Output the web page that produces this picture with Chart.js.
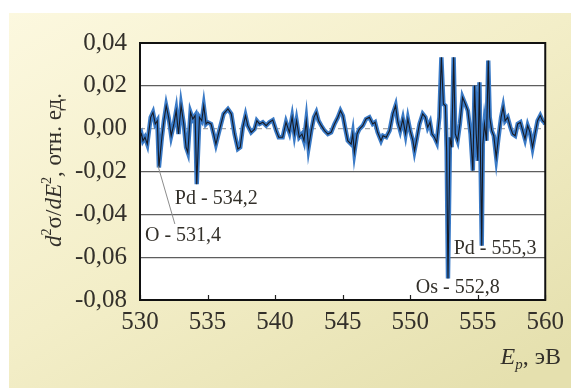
<!DOCTYPE html>
<html>
<head>
<meta charset="utf-8">
<script src="https://cdn.jsdelivr.net/npm/chart.js@4.4.1/dist/chart.umd.min.js"></script>
<style>
  html, body { margin: 0; padding: 0; background: #fff; }
  #wrap { width: 571px; height: 388px; }
</style>
</head>
<body>
<div id="wrap"><canvas id="spectrum"></canvas></div>
<script>
// --- Данные спектра: энергия (эВ) и d2σ/dE2 (отн. ед.) ---
const energy = [
  530.00, 530.11, 530.22, 530.37, 530.54, 530.79, 530.96, 531.13, 531.28, 531.40,
  531.62, 531.77, 531.94, 532.12, 532.31, 532.51, 532.68, 532.85, 533.04, 533.24,
  533.41, 533.54, 533.74, 533.91, 534.08, 534.20, 534.40, 534.57, 534.72, 534.89,
  535.01, 535.26, 535.45, 535.62, 535.87, 536.19, 536.51, 536.76, 537.00, 537.25,
  537.42, 537.61, 537.81, 537.98, 538.23, 538.48, 538.65, 538.85, 539.09, 539.34,
  539.58, 539.83, 540.08, 540.27, 540.56, 540.81, 541.06, 541.26, 541.43, 541.59,
  541.79, 541.99, 542.14, 542.31, 542.48, 542.68, 542.88, 543.05, 543.22, 543.42,
  543.66, 543.91, 544.15, 544.40, 544.65, 544.84, 545.02, 545.18, 545.38, 545.63,
  545.75, 545.87, 546.07, 546.24, 546.49, 546.73, 546.98, 547.23, 547.40, 547.59,
  547.84, 547.99, 548.23, 548.48, 548.72, 548.92, 549.09, 549.26, 549.46, 549.66,
  549.83, 550.00, 550.20, 550.32, 550.49, 550.69, 550.93, 551.13, 551.30, 551.47,
  551.62, 551.80, 551.97, 552.16, 552.31, 552.46, 552.61, 552.70, 552.80, 552.95,
  553.07, 553.22, 553.34, 553.51, 553.68, 553.88, 554.08, 554.27, 554.47, 554.64,
  554.77, 554.89, 555.01, 555.13, 555.30, 555.38, 555.50, 555.65, 555.78, 555.89,
  556.04, 556.19, 556.37, 556.54, 556.73, 556.88, 557.03, 557.22, 557.42, 557.59,
  557.77, 557.96, 558.16, 558.33, 558.50, 558.70, 558.87, 559.06, 559.24, 559.43,
  559.63, 559.80, 559.93, 560.00
];
const signal = [
  -0.0040, -0.0025, -0.0056, -0.0040, -0.0072, 0.0053, 0.0076, 0.0022, 0.0037, -0.0181,
  -0.0040, 0.0037, 0.0107, 0.0053, -0.0033, 0.0022, 0.0084, -0.0025, 0.0107, 0.0022,
  -0.0087, -0.0111, 0.0076, 0.0045, 0.0061, -0.0259, 0.0053, 0.0037, 0.0107, 0.0022,
  0.0030, 0.0022, -0.0025, -0.0072, -0.0009, 0.0069, 0.0092, 0.0069, -0.0025, -0.0095,
  -0.0087, 0.0006, 0.0061, 0.0014, -0.0017, -0.0002, 0.0037, 0.0022, 0.0030, 0.0014,
  0.0030, 0.0040, -0.0009, -0.0040, -0.0040, 0.0030, -0.0017, 0.0053, -0.0025, 0.0037,
  -0.0040, -0.0025, -0.0056, 0.0037, -0.0087, -0.0009, 0.0053, 0.0076, 0.0037, 0.0014,
  -0.0009, -0.0025, -0.0017, 0.0022, 0.0053, 0.0084, 0.0061, 0.0006, -0.0056, -0.0072,
  -0.0025, -0.0111, -0.0025, -0.0002, 0.0014, 0.0045, 0.0053, 0.0022, 0.0030, -0.0017,
  -0.0056, -0.0033, -0.0040, -0.0009, 0.0069, 0.0107, 0.0030, -0.0009, 0.0045, -0.0025,
  0.0045, -0.0009, -0.0056, -0.0103, -0.0048, 0.0022, 0.0069, 0.0053, 0.0006, 0.0030,
  -0.0025, -0.0040, -0.0064, 0.0053, 0.0333, 0.0115, 0.0107, -0.0103, -0.0700, -0.0040,
  -0.0087, 0.0333, -0.0025, -0.0056, 0.0022, 0.0146, 0.0115, 0.0084, -0.0025, -0.0196,
  0.0201, -0.0025, -0.0150, 0.0217, -0.0547, -0.0072, 0.0022, -0.0056, 0.0318, 0.0053,
  -0.0009, -0.0033, -0.0134, -0.0040, 0.0053, 0.0100, 0.0037, 0.0053, 0.0006, -0.0025,
  -0.0033, 0.0022, 0.0030, -0.0009, -0.0048, 0.0014, -0.0017, -0.0087, -0.0025, 0.0037,
  0.0061, 0.0037, 0.0030, 0.0020
];

// Подписи пиков: текст, положение подписи (эВ, значение)
const peakLabels = ["O - 531,4", "Pd - 534,2", "Os - 552,8", "Pd - 555,3"];
const peakLabelX = [530.37, 532.58, 550.42, 553.22];
const peakLabelY = [-0.0500, -0.0327, -0.0743, -0.0561];
// Выноска от пика O к подписи
const leaderX = [531.33, 532.58];
const leaderY = [-0.0173, -0.0445];

const yTicks = [-0.08, -0.06, -0.04, -0.02, 0.00, 0.02, 0.04];
const xTicks = [530, 535, 540, 545, 550, 555, 560];

const lineBlue = "#3a7ac6";
const lineDark = "#161a24";
const gridColor = "#5e5e5e";
const textColor = "#33302a";
const serif = "'Liberation Serif', 'DejaVu Serif', serif";

const points = energy.map((e, i) => ({ x: e, y: signal[i] }));

// Рисует строку из кусочков (курсив, верхний/нижний индекс)
function drawRich(ctx, parts, size) {
  let w = 0;
  const fonts = parts.map((p) => {
    const s = p.sup || p.sub ? size * 0.62 : size;
    return (p.it ? "italic " : "") + s + "px " + serif;
  });
  parts.forEach((p, i) => {
    ctx.font = fonts[i];
    p.w = ctx.measureText(p.t).width;
    w += p.w;
  });
  return {
    width: w,
    draw(x, y) {
      let cx = x;
      parts.forEach((p, i) => {
        ctx.font = fonts[i];
        const dy = p.sup ? -size * 0.45 : p.sub ? size * 0.22 : 0;
        ctx.fillText(p.t, cx, y + dy);
        cx += p.w;
      });
    },
  };
}

// Фон панели, рамка, нулевая линия, засечки, подписи
const decor = {
  id: "decor",
  beforeDraw(chart) {
    const { ctx, width, height } = chart;
    ctx.save();
    ctx.fillStyle = "#ffffff";
    ctx.fillRect(0, 0, width, height);
    const g = ctx.createLinearGradient(9, 13, 300, height + 120);
    g.addColorStop(0, "#fcf8df");
    g.addColorStop(0.5, "#f3eec8");
    g.addColorStop(1, "#e5e0ae");
    ctx.fillStyle = g;
    ctx.fillRect(9, 13, width - 9, height - 13);
    const a = chart.chartArea;
    ctx.fillStyle = "#ffffff";
    ctx.fillRect(a.left, a.top, a.right - a.left, a.bottom - a.top);
    ctx.restore();
  },
  beforeDatasetsDraw(chart) {
    const { ctx, chartArea: a, scales } = chart;
    const y0 = scales.y.getPixelForValue(0);
    ctx.save();
    ctx.strokeStyle = "#a8a8a8";
    ctx.lineWidth = 1.2;
    ctx.setLineDash([5, 4]);
    ctx.beginPath();
    ctx.moveTo(a.left, y0);
    ctx.lineTo(a.right, y0);
    ctx.stroke();
    ctx.restore();
  },
  afterDatasetsDraw(chart) {
    const { ctx, chartArea: a, scales } = chart;
    const x = scales.x, y = scales.y;
    ctx.save();
    // засечки оси X внутрь
    ctx.strokeStyle = "#222";
    ctx.lineWidth = 1.2;
    xTicks.forEach((v) => {
      const px = Math.round(x.getPixelForValue(v)) + 0.5;
      ctx.beginPath();
      ctx.moveTo(px, a.bottom);
      ctx.lineTo(px, a.bottom - 5);
      ctx.stroke();
    });
    // выноска
    ctx.strokeStyle = "#8d8d8d";
    ctx.lineWidth = 1;
    ctx.beginPath();
    ctx.moveTo(x.getPixelForValue(leaderX[0]), y.getPixelForValue(leaderY[0]));
    ctx.lineTo(x.getPixelForValue(leaderX[1]), y.getPixelForValue(leaderY[1]));
    ctx.stroke();
    // подписи пиков
    ctx.fillStyle = textColor;
    ctx.font = "20px " + serif;
    ctx.textBaseline = "middle";
    peakLabels.forEach((t, i) => {
      ctx.fillText(t, x.getPixelForValue(peakLabelX[i]), y.getPixelForValue(peakLabelY[i]));
    });
    // рамка
    ctx.strokeStyle = "#111";
    ctx.lineWidth = 2;
    ctx.strokeRect(a.left, a.top, a.right - a.left, a.bottom - a.top);
    ctx.restore();
  },
  afterDraw(chart) {
    const { ctx } = chart;
    ctx.save();
    ctx.fillStyle = textColor;
    ctx.textBaseline = "alphabetic";
    // подпись оси Y
    const yt = drawRich(ctx, [
      { t: "d", it: true }, { t: "2", sup: true }, { t: "σ" }, { t: "/" },
      { t: "dE", it: true }, { t: "2", sup: true }, { t: ", отн. ед." },
    ], 23);
    ctx.translate(61, 170);
    ctx.rotate(-Math.PI / 2);
    yt.draw(-yt.width / 2, 0);
    ctx.setTransform(1, 0, 0, 1, 0, 0);
    // подпись оси X
    const xt = drawRich(ctx, [
      { t: "E", it: true }, { t: "p", it: true, sub: true }, { t: ", эВ" },
    ], 24);
    xt.draw(561 - xt.width, 364);
    ctx.restore();
  },
};

new Chart(document.getElementById("spectrum"), {
  type: "line",
  data: {
    datasets: [
      {
        data: points,
        borderColor: lineDark,
        borderWidth: 1.1,
        pointRadius: 0,
        tension: 0,
        order: 0,
      },
      {
        data: points,
        borderColor: lineBlue,
        borderWidth: 4.4,
        pointRadius: 0,
        tension: 0,
        order: 1,
      },
    ],
  },
  options: {
    responsive: true,
    maintainAspectRatio: false,
    animation: false,
    layout: { padding: { left: 0, top: 43, right: 24, bottom: 0 } },
    plugins: { legend: { display: false }, tooltip: { enabled: false } },
    scales: {
      x: {
        type: "linear",
        min: 530,
        max: 560,
        afterFit: (s) => { s.height = 88; },
        afterBuildTicks: (s) => { s.ticks = xTicks.map((v) => ({ value: v })); },
        grid: { display: false, drawTicks: false },
        border: { display: false },
        ticks: {
          padding: 7,
          color: textColor,
          font: { family: serif, size: 25 },
        },
      },
      y: {
        min: -0.08,
        max: 0.04,
        afterFit: (s) => { s.width = 140; },
        afterBuildTicks: (s) => { s.ticks = yTicks.map((v) => ({ value: v })); },
        grid: {
          drawTicks: false,
          lineWidth: 1.3,
          color: (c) => (c.tick && Math.abs(c.tick.value) < 1e-9 ? "rgba(0,0,0,0)" : gridColor),
        },
        border: { display: false },
        ticks: {
          padding: 13,
          color: textColor,
          font: { family: serif, size: 25 },
          callback: (v) => v.toFixed(2).replace(".", ",").replace("-0,00", "0,00"),
        },
      },
    },
  },
  plugins: [decor],
});
</script>
</body>
</html>
